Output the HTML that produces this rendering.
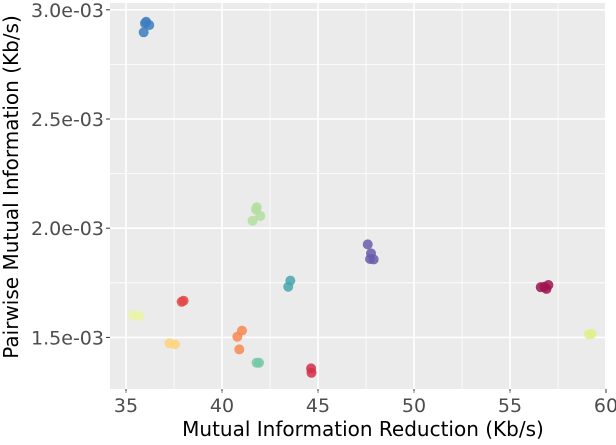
<!DOCTYPE html>
<html><head><meta charset="utf-8"><style>
body{margin:0;background:#fff}
svg text{font-family:"DejaVu Sans","Liberation Sans",sans-serif}
</style></head><body>
<svg id="c" width="616" height="440"></svg>
<script>
const xTicks=[35,40,45,50,55,60];
const yTicks=[1.5,2.0,2.5,3.0];
const yTickLabels=["1.5e-03","2.0e-03","2.5e-03","3.0e-03"];
const groupColors=["#3d7cbf","#b2df9f","#48a6ad","#e04848","#ecf4a4","#fed47c","#f7884f","#75c8a6","#d42f4a","#6a5cab","#9e1550","#e0f08a"];
const pointsX=[35.99,36.21,35.92,36.05, 41.81,41.99,41.59,41.77, 43.56,43.45, 37.90,38.00, 35.38,35.69, 37.26,37.55, 41.04,40.80,40.90, 41.93,41.80, 44.64,44.66, 47.59,47.76,47.71,47.90, 56.79,56.60,57.00,56.90, 59.11,59.25];
const pointsY=[2.938,2.930,2.897,2.945, 2.096,2.056,2.034,2.085, 1.760,1.732, 1.663,1.668, 1.603,1.598, 1.473,1.468, 1.531,1.503,1.445, 1.384,1.384, 1.358,1.338, 1.926,1.885,1.859,1.857, 1.732,1.730,1.740,1.722, 1.514,1.516];
const pointGroup=[0,0,0,0,1,1,1,1,2,2,3,3,4,4,5,5,6,6,6,7,7,8,8,9,9,9,9,10,10,10,10,11,11];
const NS="http://www.w3.org/2000/svg";
const svg=document.getElementById('c');
const L=110,R=605,T=3,B=389;
const xs=v=>126+(v-35)*19.2;
const ys=v=>337.4-(v-1.5)*218.4;
function mk(t,a,p){const e=document.createElementNS(NS,t);for(const k in a)e.setAttribute(k,a[k]);(p||svg).appendChild(e);return e;}
const bg=mk('rect',{x:L,y:T,width:R-L,height:B-T,fill:'#ebebeb'});


const grid=mk('g',{});


for(let i=0;i<xTicks.length;i++){
  const x=xs(xTicks[i]);
  mk('line',{x1:x,x2:x,y1:T,y2:B,stroke:'#fff','stroke-width':1.6},grid);
  if(i<xTicks.length-1){const xm=xs((xTicks[i]+xTicks[i+1])/2);mk('line',{x1:xm,x2:xm,y1:T,y2:B,stroke:'#fff','stroke-width':0.8},grid);}
  mk('line',{x1:x,x2:x,y1:B,y2:B+4,stroke:'#333','stroke-width':1},grid);
  const t=mk('text',{x:x,y:B+23,'text-anchor':'middle','font-size':19,fill:'#4d4d4d'});
  t.textContent=xTicks[i];
  
  
}
for(let i=0;i<yTicks.length;i++){
  const y=ys(yTicks[i]);
  mk('line',{x1:L,x2:R,y1:y,y2:y,stroke:'#fff','stroke-width':1.6},grid);
  const ym=ys(yTicks[i]-0.25);mk('line',{x1:L,x2:R,y1:ym,y2:ym,stroke:'#fff','stroke-width':0.8},grid);
  mk('line',{x1:L-4,x2:L,y1:y,y2:y,stroke:'#333','stroke-width':1},grid);
  const t=mk('text',{x:L-6,y:y+7,'text-anchor':'end','font-size':19,fill:'#4d4d4d'});
  t.textContent=yTickLabels[i];
  
  
}
const pts=mk('g',{});


for(let i=0;i<pointsX.length;i++){
  const c=mk('circle',{cx:xs(pointsX[i]),cy:ys(pointsY[i]),r:5,fill:groupColors[pointGroup[i]],'fill-opacity':0.85},pts);
  
  
}
const xt=mk('text',{x:363,y:436,'text-anchor':'middle','font-size':20,fill:'#000'});
xt.textContent='Mutual Information Reduction (Kb/s)';


const yt=mk('text',{x:0,y:0,'text-anchor':'middle','font-size':20,fill:'#000',transform:'translate(18,187) rotate(-90)'});
yt.textContent='Pairwise Mutual Information (Kb/s)';


</script>
</body></html>
